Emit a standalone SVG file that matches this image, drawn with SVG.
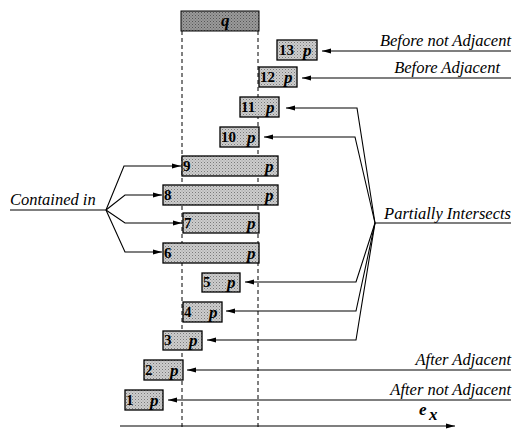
<svg xmlns="http://www.w3.org/2000/svg" width="519" height="429" viewBox="0 0 519 429">
<defs>
<marker id="ah" markerWidth="10" markerHeight="6" refX="9" refY="3" orient="auto" markerUnits="userSpaceOnUse">
<path d="M0,0.5 L9,3 L0,5.5 Z" fill="#000"/>
</marker>
<pattern id="dots" width="3" height="3" patternUnits="userSpaceOnUse">
<rect width="3" height="3" fill="#cdcdcd"/>
<rect x="0" y="0" width="1" height="1" fill="#7a7a7a"/>
<rect x="1.5" y="1.5" width="1" height="1" fill="#999"/>
</pattern>
<pattern id="dotsq" width="3" height="3" patternUnits="userSpaceOnUse">
<rect width="3" height="3" fill="#9a9a9a"/>
<rect x="0" y="0" width="1" height="1" fill="#555"/>
<rect x="1.5" y="1.5" width="1" height="1" fill="#666"/>
</pattern>
</defs>
<style>
.box{fill:url(#dots);stroke:#000;stroke-width:1.3}
.qbox{fill:url(#dotsq);stroke:#000;stroke-width:1}
.num{font-family:"Liberation Serif",serif;font-weight:bold;font-size:15px;fill:#000}
.p{font-family:"Liberation Serif",serif;font-weight:bold;font-style:italic;font-size:17px;fill:#000}
.lbl{font-family:"Liberation Serif",serif;font-style:italic;font-size:16.5px;fill:#000}
.ln{fill:none;stroke:#000;stroke-width:1.1}
.dash{stroke:#000;stroke-width:1;stroke-dasharray:4,3}
</style>

<g id="guides">
<line class="dash" x1="182" y1="31" x2="182" y2="429"/>
<line class="dash" x1="258" y1="31" x2="258" y2="429"/>
</g>

<g id="q">
<rect class="qbox" x="181" y="11" width="78" height="20"/>
<text class="p" x="221" y="26" fill="#222">q</text>
</g>

<g id="n13"><rect class="box" x="277" y="40" width="40" height="20"/><text class="num" x="279" y="55">13</text><text class="p" x="303" y="56">p</text></g>
<g id="n12"><rect class="box" x="259" y="67" width="38" height="20"/><text class="num" x="260" y="82">12</text><text class="p" x="284" y="83">p</text></g>
<g id="n11"><rect class="box" x="240" y="97" width="39" height="20"/><text class="num" x="241" y="112">11</text><text class="p" x="266" y="113">p</text></g>
<g id="n10"><rect class="box" x="220" y="127" width="39" height="20"/><text class="num" x="221" y="142">10</text><text class="p" x="247" y="143">p</text></g>
<g id="n9"><rect class="box" x="182" y="156" width="96" height="20"/><text class="num" x="183" y="171">9</text><text class="p" x="265" y="172">p</text></g>
<g id="n8"><rect class="box" x="163" y="185" width="115" height="20"/><text class="num" x="164" y="200">8</text><text class="p" x="265" y="201">p</text></g>
<g id="n7"><rect class="box" x="183" y="213" width="76" height="20"/><text class="num" x="184" y="228">7</text><text class="p" x="247" y="229">p</text></g>
<g id="n6"><rect class="box" x="163" y="243" width="96" height="20"/><text class="num" x="164" y="258">6</text><text class="p" x="247" y="259">p</text></g>
<g id="n5"><rect class="box" x="202" y="273" width="38" height="19"/><text class="num" x="203" y="287">5</text><text class="p" x="227" y="288">p</text></g>
<g id="n4"><rect class="box" x="183" y="302" width="39" height="20"/><text class="num" x="184" y="317">4</text><text class="p" x="209" y="318">p</text></g>
<g id="n3"><rect class="box" x="163" y="331" width="39" height="19"/><text class="num" x="164" y="345">3</text><text class="p" x="189" y="346">p</text></g>
<g id="n2"><rect class="box" x="144" y="360" width="39" height="20"/><text class="num" x="145" y="375">2</text><text class="p" x="170" y="376">p</text></g>
<g id="n1"><rect class="box" x="125" y="390" width="38" height="20"/><text class="num" x="126" y="405">1</text><text class="p" x="150" y="406">p</text></g>

<g id="labels">
<text class="lbl" x="511" y="46" text-anchor="end">Before not Adjacent</text>
<text class="lbl" x="500" y="73" text-anchor="end">Before Adjacent</text>
<text class="lbl" x="511" y="219" text-anchor="end">Partially Intersects</text>
<text class="lbl" x="10" y="205">Contained in</text>
<text class="lbl" x="511" y="365" text-anchor="end">After Adjacent</text>
<text class="lbl" x="511" y="395" text-anchor="end">After not Adjacent</text>
<text class="p" x="419" y="415" font-size="15">e</text>
<text class="p" x="429" y="420" font-size="12">x</text>
</g>

<g id="connectors">
<line class="ln" x1="511" y1="51" x2="322" y2="51" marker-end="url(#ah)"/>
<line class="ln" x1="511" y1="78" x2="302" y2="78" marker-end="url(#ah)"/>
<line class="ln" x1="511" y1="370" x2="187" y2="370" marker-end="url(#ah)"/>
<line class="ln" x1="511" y1="400" x2="168" y2="400" marker-end="url(#ah)"/>
<line class="ln" x1="375" y1="223" x2="511" y2="223"/>
<polyline class="ln" points="375,223 357,108 286,108" marker-end="url(#ah)"/>
<polyline class="ln" points="375,223 355,137 264,137" marker-end="url(#ah)"/>
<polyline class="ln" points="375,223 356,282 245,282" marker-end="url(#ah)"/>
<polyline class="ln" points="375,223 356,311 226,311" marker-end="url(#ah)"/>
<polyline class="ln" points="375,223 356,340 207,340" marker-end="url(#ah)"/>
<line class="ln" x1="10" y1="210" x2="106" y2="210"/>
<polyline class="ln" points="106,210 124,166 181,166" marker-end="url(#ah)"/>
<polyline class="ln" points="106,210 125,195 162,195" marker-end="url(#ah)"/>
<polyline class="ln" points="106,210 125,223 182,223" marker-end="url(#ah)"/>
<polyline class="ln" points="106,210 125,252 162,252" marker-end="url(#ah)"/>
<line class="ln" x1="120" y1="426" x2="455" y2="426" marker-end="url(#ah)"/>
</g>
</svg>
